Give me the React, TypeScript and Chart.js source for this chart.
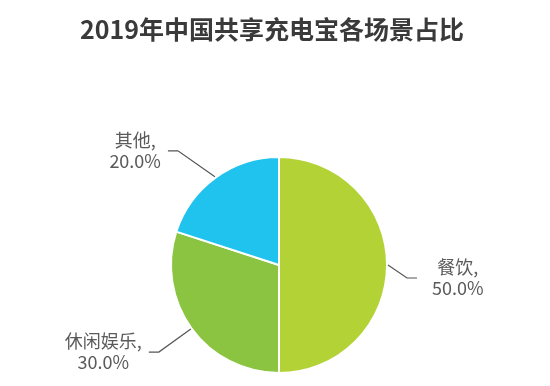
import React, { useEffect, useRef } from "react";
import { Chart, registerables } from "chart.js";

Chart.register(...registerables);

const TITLE = "2019年中国共享充电宝各场景占比";
const categories = ["餐饮", "休闲娱乐", "其他"];
const shares = [50.0, 30.0, 20.0];
const colors = ["#b2d235", "#8bc441", "#1fc3ee"];
// leader line elbow offsets from slice edge (dx, dy)
const leaderOffsets = [
  [19, 13],
  [-32, 23],
  [-37, -26],
];

const LABEL_FONT = '18px "Noto Sans CJK SC", "Noto Sans", sans-serif';
const TITLE_FONT = 'bold 25px "Noto Sans CJK SC", "Noto Sans", sans-serif';

const labelPlugin = {
  id: "leaderLabels",
  afterDatasetsDraw(chart: any) {
    const ctx = chart.ctx;
    const meta = chart.getDatasetMeta(0);
    ctx.save();
    // title
    ctx.font = TITLE_FONT;
    ctx.fillStyle = "#3a3a3a";
    ctx.textAlign = "center";
    ctx.textBaseline = "middle";
    ctx.fillText(TITLE, 272, 29);

    meta.data.forEach((arc: any, i: number) => {
      const p = arc.getProps(["x", "y", "startAngle", "endAngle", "outerRadius"], true);
      const mid = (p.startAngle + p.endAngle) / 2;
      const ex = p.x + Math.cos(mid) * (p.outerRadius + 1);
      const ey = p.y + Math.sin(mid) * (p.outerRadius + 1);
      const [dx, dy] = leaderOffsets[i];
      const bx = ex + dx;
      const by = ey + dy;
      const dir = dx >= 0 ? 1 : -1;
      const hx = bx + dir * 10;
      ctx.strokeStyle = "#555555";
      ctx.lineWidth = 1.2;
      ctx.beginPath();
      ctx.moveTo(ex, ey);
      ctx.lineTo(bx, by);
      ctx.lineTo(hx, by);
      ctx.stroke();

      const lines = [categories[i] + ",", shares[i].toFixed(1) + "%"];
      ctx.font = LABEL_FONT;
      const w = Math.max(...lines.map((l) => ctx.measureText(l).width));
      const gap = dir > 0 ? 15 : 7;
      const cx = dir > 0 ? hx + gap + w / 2 : hx - gap - w / 2;
      const lh = 21;
      ctx.fillStyle = "#5a5a5a";
      ctx.textAlign = "center";
      ctx.textBaseline = "middle";
      lines.forEach((l, k) => {
        ctx.fillText(l, cx, by + (k - (lines.length - 1) / 2) * lh);
      });
    });
    ctx.restore();
  },
};

export default function App() {
  const ref = useRef<HTMLCanvasElement>(null);
  useEffect(() => {
    if (!ref.current) return;
    const chart = new Chart(ref.current, {
      type: "pie",
      data: {
        labels: categories,
        datasets: [
          {
            data: shares,
            backgroundColor: colors,
            borderColor: "#ffffff",
            borderWidth: 2,
          },
        ],
      },
      options: {
        responsive: false,
        animation: false,
        layout: { padding: { left: 170, right: 162, top: 155, bottom: 11 } },
        plugins: {
          legend: { display: false },
          tooltip: { enabled: false },
          title: { display: false },
        },
      },
      plugins: [labelPlugin],
    });
    return () => chart.destroy();
  }, []);
  return (
    <div style={{ position: "absolute", left: 0, top: 0, width: 550, height: 386, background: "#fff" }}>
      <canvas ref={ref} width={550} height={386} />
    </div>
  );
}
